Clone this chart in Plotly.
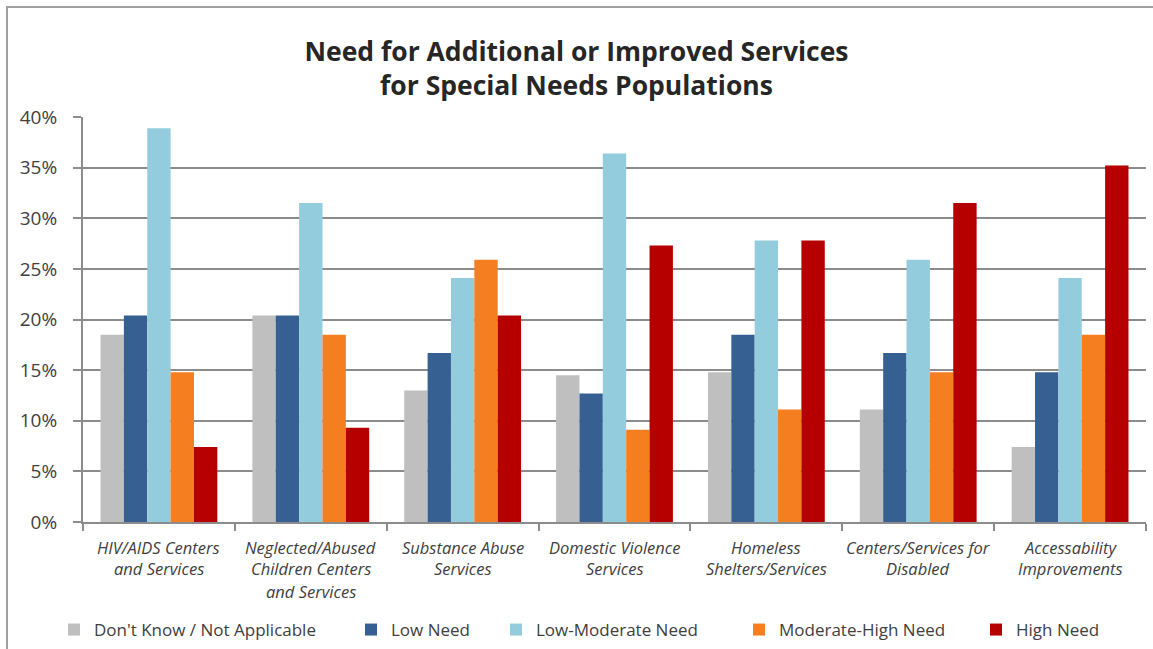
import plotly.graph_objects as go

# Survey results: share of respondents per need level, by service type
categories = [
    "HIV/AIDS Centers<br>and Services",
    "Neglected/Abused<br>Children Centers<br>and Services",
    "Substance Abuse<br>Services",
    "Domestic Violence<br>Services",
    "Homeless<br>Shelters/Services",
    "Centers/Services for<br>Disabled",
    "Accessability<br>Improvements",
]
series_names = [
    "Don't Know / Not Applicable",
    "Low Need",
    "Low-Moderate Need",
    "Moderate-High Need",
    "High Need",
]
dont_know = [0.185, 0.204, 0.130, 0.145, 0.148, 0.111, 0.074]
low_need = [0.204, 0.204, 0.167, 0.127, 0.185, 0.167, 0.148]
low_moderate = [0.389, 0.315, 0.241, 0.364, 0.278, 0.259, 0.241]
moderate_high = [0.148, 0.185, 0.259, 0.091, 0.111, 0.148, 0.185]
high_need = [0.074, 0.093, 0.204, 0.273, 0.278, 0.315, 0.352]
y_tick_values = [0, 0.05, 0.10, 0.15, 0.20, 0.25, 0.30, 0.35, 0.40]

series_values = [dont_know, low_need, low_moderate, moderate_high, high_need]
colors = ["#BFBFBF", "#376092", "#93CDDD", "#F47E20", "#B60000"]

W, H = 1153, 649
L, R, T, B = 83, 7, 117, 127
plot_w = W - L - R
plot_h = H - T - B


def px_x(px):
    return (px - L) / plot_w


def px_y(py):
    return (H - B - py) / plot_h


FONT = "Open Sans, Lato, sans-serif"
TEXT = "#404040"
GRID = "#8C8C8C"

fig = go.Figure()
legend_ids = ["legend", "legend2", "legend3", "legend4", "legend5"]
for name, vals, col, lg in zip(series_names, series_values, colors, legend_ids):
    fig.add_trace(go.Bar(
        x=categories, y=vals, name=name, marker_color=col,
        marker_line_width=0, legend=lg, showlegend=True,
    ))

# Legend entries laid out on one row beneath the category labels;
# placed in container coordinates so they leave the plot area untouched
legend_text_px = [95, 392, 537, 780, 1017]
legend_layout = {}
for lg, tx in zip(legend_ids, legend_text_px):
    legend_layout[lg] = dict(
        x=(tx - 41) / W, xref="container", xanchor="left",
        y=1 - 630 / H, yref="container", yanchor="middle",
        orientation="h", bgcolor="rgba(0,0,0,0)",
        font=dict(family=FONT, size=17, color=TEXT),
        itemwidth=30,
    )

# Category labels, one annotation per text line
line_centers = [547, 568, 591]
for cat in categories:
    for i, part in enumerate(cat.split("<br>")):
        fig.add_annotation(
            x=cat, xref="x", y=px_y(line_centers[i]), yref="paper",
            text=part, showarrow=False, yanchor="middle", xanchor="center",
            font=dict(family=FONT, size=16.5, color=TEXT, style="italic"),
        )

# Chart-area frame
fig.add_shape(
    type="rect", xref="paper", yref="paper",
    x0=px_x(7), x1=px_x(1170), y0=px_y(7), y1=px_y(670),
    line=dict(color="#A0A0A0", width=2), fillcolor="rgba(0,0,0,0)", layer="below",
)

fig.update_layout(
    width=W, height=H,
    margin=dict(l=L, r=R, t=T, b=B, autoexpand=False),
    paper_bgcolor="white", plot_bgcolor="white",
    barmode="group", bargap=1.5 / 6.5, bargroupgap=0,
    showlegend=True,
    title=dict(
        text="Need for Additional or Improved Services<br>for Special Needs Populations",
        x=0.5, xanchor="center", y=1 - 61 / H, yanchor="middle",
        font=dict(family=FONT, size=26.5, color="#262626", weight="bold"),
    ),
    **legend_layout,
)
fig.update_xaxes(
    showticklabels=False, showline=True, linecolor=GRID, linewidth=2,
    ticks="outside", tickson="boundaries", ticklen=7, tickcolor=GRID, tickwidth=2,
    showgrid=False,
)
fig.update_yaxes(
    range=[0, 0.4], tickvals=y_tick_values, tickformat=".0%",
    showline=True, linecolor=GRID, linewidth=2,
    ticks="outside", ticklen=8, tickcolor=GRID, tickwidth=2,
    showgrid=True, gridcolor=GRID, gridwidth=2, zeroline=False,
    ticklabelstandoff=12,
    tickfont=dict(family=FONT, size=19, color=TEXT),
)

fig.write_html("out.html")
